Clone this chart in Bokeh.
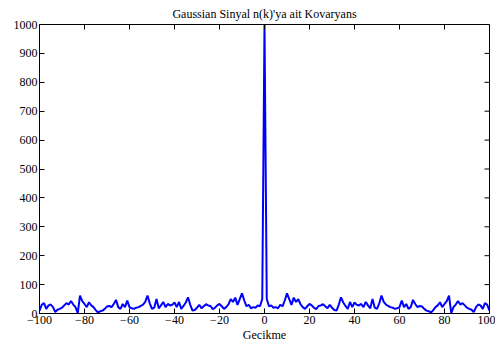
import math
from bokeh.plotting import figure
from bokeh.models import Range1d, FixedTicker, ColumnDataSource
from bokeh.embed import file_html
from bokeh.resources import INLINE

# Covariance of the Gaussian signal for positive lags 1..100 (symmetric in the lag)
lags_pos = list(range(1, 101))
cov_pos = [
    50, 25, 28, 20, 22, 18, 30, 25, 45, 70,
    50, 30, 55, 40, 50, 32, 22, 16, 25, 33,
    28, 20, 15, 26, 28, 32, 25, 18, 30, 20,
    12, 10, 30, 56, 38, 26, 16, 40, 22, 38,
    30, 28, 33, 22, 40, 28, 18, 50, 20, 16,
    35, 62, 40, 31, 26, 22, 20, 16, 18, 22,
    45, 22, 33, 16, 22, 47, 33, 22, 26, 24,
    16, 10, 8, 3, 12, 22, 28, 39, 22, 33,
    43, 62, 1, 22, 31, 43, 31, 36, 28, 20,
    16, 13, 5, 22, 31, 28, 16, 36, 30, 10,
]
cov_zero = 1000

lags = [-k for k in reversed(lags_pos)] + [0] + lags_pos
cov = list(reversed(cov_pos)) + [cov_zero] + cov_pos

x_ticks = [-100, -80, -60, -40, -20, 0, 20, 40, 60, 80, 100]
y_ticks = [0, 100, 200, 300, 400, 500, 600, 700, 800, 900, 1000]
X_MIN, X_MAX = -100, 100
Y_MIN, Y_MAX = 0, 1000

FONT = "Liberation Serif"
FS = "12px"

p = figure(
    width=495, height=349,
    x_range=Range1d(X_MIN, X_MAX), y_range=Range1d(Y_MIN, Y_MAX),
    output_backend="svg", toolbar_location=None,
    min_border_left=39, min_border_right=6,
    min_border_top=23, min_border_bottom=36,
    title="Gaussian Sinyal n(k)'ya ait Kovaryans",
)
p.background_fill_color = "white"
p.border_fill_color = "white"
p.outline_line_color = "black"
p.outline_line_width = 1
p.grid.visible = False

p.title.text_font = FONT
p.title.text_font_size = FS
p.title.text_font_style = "normal"
p.title.align = "center"
p.title.text_color = "black"
p.title.standoff = 8

src = ColumnDataSource(data=dict(lag=lags, cov=cov))
p.line("lag", "cov", source=src, line_color="#0000ff", line_width=2)


def style_axis(ax, ticks):
    ax.ticker = FixedTicker(ticks=ticks)
    ax.major_tick_in = 5
    ax.major_tick_out = 0
    ax.minor_tick_in = 0
    ax.minor_tick_out = 0
    ax.axis_line_color = "black"
    ax.major_tick_line_color = "black"
    ax.major_label_text_font = FONT
    ax.major_label_text_font_size = FS
    ax.major_label_text_color = "black"
    ax.major_label_standoff = 2
    ax.axis_label_text_font = FONT
    ax.axis_label_text_font_size = FS
    ax.axis_label_text_font_style = "normal"
    ax.axis_label_text_color = "black"


style_axis(p.xaxis[0], x_ticks)
p.xaxis[0].axis_label = "Gecikme"
p.xaxis[0].axis_label_standoff = 1
style_axis(p.yaxis[0], y_ticks)

# inward tick marks on the top and right edges of the box
p.ray(x=x_ticks, y=[Y_MAX] * len(x_ticks), length=5, length_units="screen",
      angle=-math.pi / 2, line_color="black", line_width=1)
p.ray(x=[X_MAX] * len(y_ticks), y=y_ticks, length=5, length_units="screen",
      angle=math.pi, line_color="black", line_width=1)

open("out.html", "w").write(file_html(p, INLINE))
